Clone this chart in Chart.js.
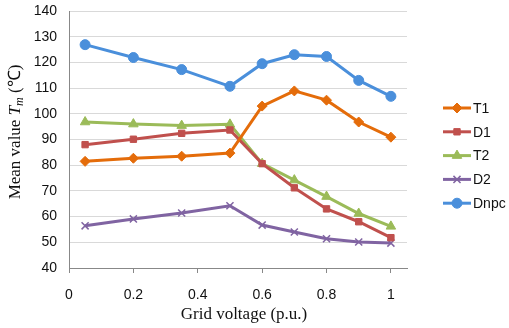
<!DOCTYPE html>
<html>
<head>
<meta charset="utf-8">
<script src="https://cdn.jsdelivr.net/npm/chart.js@4"></script>
<style>
    html, body { margin: 0; padding: 0; background: #fff; }
    canvas { display: block; }
</style>
</head>
<body>
<canvas id="chart" width="509" height="328"></canvas>
<script>
// grid voltage (p.u.) at each operating point
const voltage = [0.05, 0.2, 0.35, 0.5, 0.6, 0.7, 0.8, 0.9, 1.0];
const xTicks = [0, 0.2, 0.4, 0.6, 0.8, 1];

// mean junction temperature per device, in degC
const t1 = [81.5, 82.7, 83.5, 84.7, 103.0, 108.9, 105.3, 96.8, 90.9];
const d1 = [88.0, 90.1, 92.4, 93.7, 80.6, 71.2, 63.0, 58.0, 51.8];
const t2 = [96.8, 96.0, 95.4, 95.9, 80.6, 74.2, 67.8, 61.2, 56.2];
const d2 = [56.4, 59.1, 61.4, 64.2, 56.7, 54.0, 51.4, 50.1, 49.7];
const dnpc = [126.9, 121.9, 117.2, 110.7, 119.5, 123.0, 122.3, 113.0, 106.8];

const ctx = document.getElementById('chart').getContext('2d');

function series(label, values, color, pointStyle, radius) {
    return {
        label: label,
        data: values.map((v, i) => ({x: voltage[i], y: v})),
        borderColor: color,
        backgroundColor: color,
        borderWidth: 3,
        pointStyle: pointStyle,
        pointRadius: radius,
        pointBorderWidth: pointStyle === 'crossRot' ? 1.5 : 1,
        pointBorderColor: color,
        pointBackgroundColor: color,
        tension: 0,
        fill: false
    };
}

// axis titles and the right-hand legend are drawn by hand
const extras = {
    id: 'extras',
    afterDraw(chart) {
        const c = chart.ctx;
        c.save();
        c.fillStyle = '#111';
        c.textBaseline = 'middle';

        // x title
        c.font = '17px "Liberation Serif", "Times New Roman", serif';
        c.textAlign = 'center';
        c.fillText('Grid voltage (p.u.)', 244, 315);

        // y title with italic T and subscript m
        const parts = [
            {t: 'Mean value ', f: '17px "Liberation Serif", serif', dy: 0},
            {t: 'T', f: 'italic 17px "Liberation Serif", serif', dy: 0},
            {t: 'm', f: 'italic 12px "Liberation Serif", serif', dy: 4},
            {t: ' (\u2103)', f: '17px "Liberation Serif", serif', dy: 0}
        ];
        let total = 0;
        parts.forEach(p => { c.font = p.f; p.w = c.measureText(p.t).width; total += p.w; });
        c.translate(16, 132);
        c.rotate(-Math.PI / 2);
        c.textAlign = 'left';
        let x = -total / 2;
        parts.forEach(p => {
            c.font = p.f;
            c.fillText(p.t, x, p.dy);
            x += p.w;
        });
        c.setTransform(1, 0, 0, 1, 0, 0);

        // legend: short line with the series marker, then the label
        c.font = '14px "Liberation Sans", Arial, sans-serif';
        c.textAlign = 'left';
        chart.data.datasets.forEach((ds, i) => {
            const y = 108 + i * 23.8;
            c.strokeStyle = ds.borderColor;
            c.fillStyle = ds.backgroundColor;
            c.lineWidth = 3;
            c.beginPath();
            c.moveTo(443, y);
            c.lineTo(471, y);
            c.stroke();
            c.lineWidth = ds.pointBorderWidth;
            Chart.helpers.drawPoint(c, {
                pointStyle: ds.pointStyle,
                radius: ds.pointRadius,
                rotation: 0,
                borderWidth: ds.pointBorderWidth
            }, 457, y);
            c.fillStyle = '#111';
            c.fillText(ds.label, 473, y + 1);
        });
        c.restore();
    }
};

const chart = new Chart(ctx, {
    type: 'line',
    data: {
        datasets: [
            series('T1', t1, '#e46c0a', 'rectRot', 5),
            series('D1', d1, '#c0504d', 'rect', 4.5),
            series('T2', t2, '#9bbb59', 'triangle', 5.5),
            series('D2', d2, '#8064a2', 'crossRot', 5),
            series('Dnpc', dnpc, '#4a8fdb', 'circle', 5)
        ]
    },
    options: {
        responsive: false,
        animation: false,
        layout: {
            padding: {top: 11, right: 102, bottom: 0, left: 0}
        },
        plugins: {
            legend: {display: false},
            tooltip: {enabled: false}
        },
        scales: {
            x: {
                type: 'linear',
                min: 0,
                max: 1.05,
                afterBuildTicks: function (scale) {
                    scale.ticks = xTicks.map(v => ({value: v}));
                },
                afterFit: function (scale) {
                    scale.height = 60;
                    scale.paddingLeft = 0;
                    scale.paddingRight = 0;
                },
                grid: {
                    color: 'transparent',
                    tickColor: '#888',
                    drawTicks: true,
                    tickLength: 5
                },
                border: {color: '#888', width: 1},
                ticks: {
                    padding: 14,
                    color: '#111',
                    font: {family: '"Liberation Sans", Arial, sans-serif', size: 14},
                    callback: function (value) {
                        return String(Math.round(value * 10) / 10);
                    }
                }
            },
            y: {
                min: 40,
                max: 140,
                afterFit: function (scale) {
                    scale.width = 69;
                    scale.paddingTop = 0;
                    scale.paddingBottom = 0;
                },
                grid: {
                    color: '#d9d9d9',
                    drawTicks: false
                },
                border: {color: '#888', width: 1},
                ticks: {
                    stepSize: 10,
                    padding: 12,
                    color: '#111',
                    font: {family: '"Liberation Sans", Arial, sans-serif', size: 14}
                }
            }
        }
    },
    plugins: [extras]
});
</script>
</body>
</html>
